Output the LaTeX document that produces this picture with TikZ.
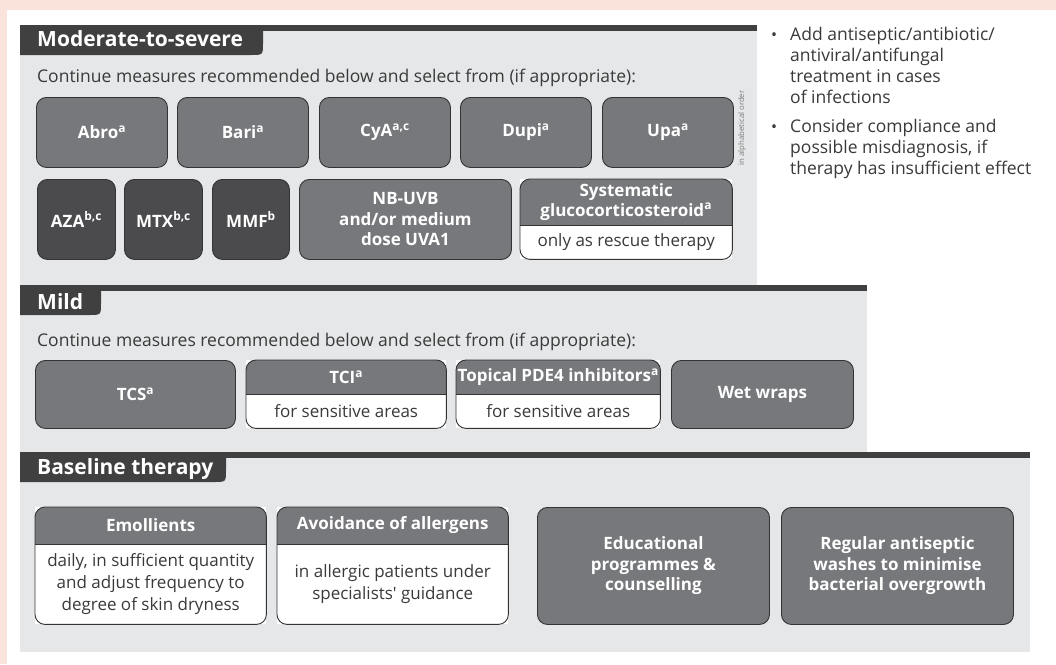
\documentclass[tikz,border=0pt]{standalone}
\usepackage{fontspec}
\setmainfont{Open Sans}
\usetikzlibrary{calc}
\definecolor{pinkbg}{HTML}{F9E3DA}
\definecolor{panel}{HTML}{E6E7E8}
\definecolor{darkbar}{HTML}{404041}
\definecolor{midbox}{HTML}{77787B}
\definecolor{darkbox}{HTML}{4B4B4D}
\definecolor{txt}{HTML}{3A3A3A}
\definecolor{edge}{HTML}{333333}
\definecolor{note}{HTML}{7A7A7A}
\newcommand{\supr}[1]{\textsuperscript{#1}}
\tikzset{
 tbox/.style={rounded corners=10pt, draw=edge, line width=0.9pt, inner sep=0pt, anchor=north west, align=center, text=white, font=\fontsize{17}{20.5}\selectfont\bfseries},
 midb/.style={tbox, fill=midbox},
 darkb/.style={tbox, fill=darkbox},
 twoframe/.style={inner sep=0pt, anchor=north west, fill=white},
 headt/.style={text=white, font=\fontsize{17}{19.5}\selectfont\bfseries, align=center, inner sep=0pt},
 bodyt/.style={text=txt, font=\fontsize{17}{22}\selectfont, align=center, inner sep=0pt},
 tabt/.style={text=white, font=\fontsize{21}{24}\selectfont\bfseries, anchor=base west, inner sep=0pt},
 plaintext/.style={text=txt, font=\fontsize{17.5}{21}\selectfont, inner sep=0pt},
 bullett/.style={text=txt, font=\fontsize{16}{18}\selectfont, inner sep=0pt, anchor=base},
}
% name, x, y, width, height, header height, header text, body text
\newcommand{\twobox}[8]{%
 \node[twoframe, minimum width=#4, minimum height=#5] (#1) at (#2,#3) {};
 \begin{scope}
  \clip[rounded corners=10pt] (#1.south west) rectangle (#1.north east);
  \fill[midbox] (#1.north west) rectangle ([yshift=-#6]#1.north east);
 \end{scope}
 \draw[edge, line width=0.9pt] ([yshift=-#6]#1.north west) -- ([yshift=-#6]#1.north east);
 \draw[edge, line width=0.9pt, rounded corners=10pt] (#1.south west) rectangle (#1.north east);
 \node[headt] (#1-h) at ($(#1.north)!0.5!([yshift=-#6]#1.north)$) {#7};
 \node[bodyt] (#1-b) at ($([yshift=-#6]#1.north)!0.5!(#1.south)$) {#8};
}
\begin{document}
\begin{tikzpicture}[x=1pt,y=-1pt]
\useasboundingbox (0,0) rectangle (1056,664);
\fill[pinkbg] (0,0) rectangle (1056,664);
\fill[white] (7,10) rectangle (1056,664);
% panels
\fill[panel] (20,25) rectangle (757,285);
\fill[panel] (20,285) rectangle (867,452);
\fill[panel] (20,452) rectangle (1030,652);
\fill[darkbar] (20,25) rectangle (757,31);
\fill[darkbar] (20,285) rectangle (867,291);
\fill[darkbar] (20,452) rectangle (1030,458);
% tabs
\fill[darkbar] (20,25) -- (263,25) -- (263,43) .. controls (263,55) .. (251,55) -- (20,55) -- cycle;
\node[tabt] (t1) at (37,46) {Moderate-to-severe};
\fill[darkbar] (20,285) -- (101,285) -- (101,303) .. controls (101,315) .. (89,315) -- (20,315) -- cycle;
\node[tabt] (t2) at (37,309) {Mild};
\fill[darkbar] (20,452) -- (226,452) -- (226,470) .. controls (226,482) .. (214,482) -- (20,482) -- cycle;
\node[tabt] (t3) at (37,474) {Baseline therapy};
% intro lines
\node[plaintext, anchor=base west] (c1) at (37,82) {Continue measures recommended below and select from (if appropriate):};
\node[plaintext, anchor=base west] (c2) at (37,346) {Continue measures recommended below and select from (if appropriate):};
% moderate row 1
\node[midb, minimum width=131pt, minimum height=70pt] (abro) at (36,97) {Abro\supr{a}};
\node[midb, minimum width=131pt, minimum height=70pt] (bari) at (177,97) {Bari\supr{a}};
\node[midb, minimum width=131pt, minimum height=70pt] (cya) at (319,97) {CyA\supr{a,c}};
\node[midb, minimum width=131pt, minimum height=70pt] (dupi) at (460,97) {Dupi\supr{a}};
\node[midb, minimum width=131pt, minimum height=70pt] (upa) at (602,97) {Upa\supr{a}};
\node[rotate=90, font=\fontsize{7.8}{9}\selectfont, text=note, inner sep=0pt] (ord) at (742,128) {in alphabetical order};
% moderate row 2
\node[darkb, minimum width=78pt, minimum height=80pt] (aza) at (37,179) {AZA\supr{b,c}};
\node[darkb, minimum width=78pt, minimum height=80pt] (mtx) at (124,179) {MTX\supr{b,c}};
\node[darkb, minimum width=77pt, minimum height=80pt] (mmf) at (212,179) {MMF\supr{b}};
\node[midb, minimum width=212pt, minimum height=80pt] (nbuvb) at (299,179) {NB-UVB\\and/or medium\\dose UVA1};
\twobox{sys}{520}{179}{212pt}{80pt}{46pt}{Systematic\\glucocorticosteroid\supr{a}}{only as rescue therapy}
% mild row
\node[midb, minimum width=200pt, minimum height=68pt] (tcs) at (35,360) {TCS\supr{a}};
\twobox{tci}{246}{360}{200pt}{68pt}{34pt}{TCI\supr{a}}{for sensitive areas}
\twobox{pde}{456}{360}{204pt}{68pt}{34pt}{Topical PDE4 inhibitors\supr{a}}{for sensitive areas}
\node[midb, minimum width=182pt, minimum height=68pt] (wet) at (671,360) {Wet wraps};
% baseline row
\twobox{emo}{35}{507}{231pt}{117pt}{37pt}{Emollients}{daily, in sufficient quantity\\and adjust frequency to\\degree of skin dryness}
\twobox{avo}{277}{507}{231pt}{117pt}{37pt}{Avoidance of allergens}{in allergic patients under\\specialists\textquotesingle{} guidance}
\node[midb, minimum width=232pt, minimum height=117pt] (edu) at (537,507) {Educational\\programmes \&\\counselling};
\node[midb, minimum width=232pt, minimum height=117pt] (reg) at (781,507) {Regular antiseptic\\washes to minimise\\bacterial overgrowth};
% side notes
\node[bullett] (bul1) at (774,40) {•};
\node[plaintext, anchor=north west, align=left] (n1) at (790,27) {Add antiseptic/antibiotic/\\antiviral/antifungal\\treatment in cases\\of infections};
\node[bullett] (bul2) at (774,132) {•};
\node[plaintext, anchor=north west, align=left] (n2) at (790,119) {Consider compliance and\\possible misdiagnosis, if\\therapy has insufficient effect};
\end{tikzpicture}
\end{document}
